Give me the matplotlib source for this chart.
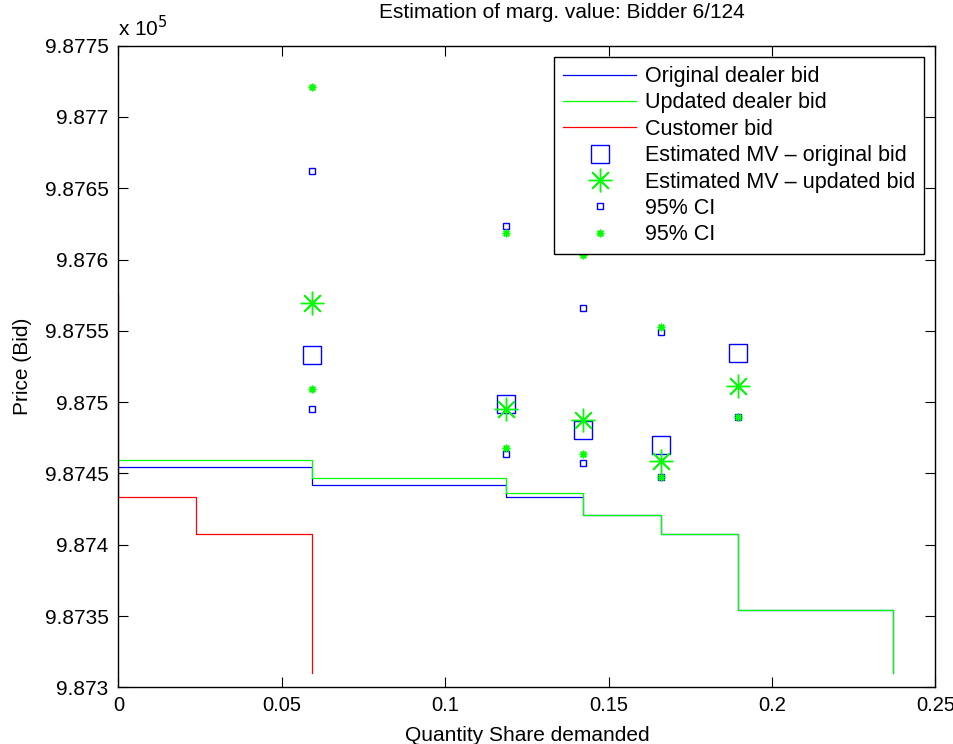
import numpy as np
import matplotlib
matplotlib.use('Agg')
import matplotlib.pyplot as plt

plt.rcParams['font.family'] = ['Liberation Sans', 'DejaVu Sans']
plt.rcParams['font.size'] = 15

# step points of the bid curves (quantity share, price)
q_dealer = [0, 0.0592, 0.1185, 0.1421, 0.1660, 0.1897, 0.2369]
p_original = [987454.7, 987441.9, 987433.6, 987420.8, 987407.4, 987354.1, 987309.8]
p_updated = [987459.4, 987446.7, 987436.4, 987420.8, 987407.4, 987354.1, 987309.8]

q_customer = [0, 0, 0.0237, 0.0592]
p_customer = [987575.3, 987433.4, 987407.4, 987309.8]

# estimated marginal values and confidence bounds
q_mv = [0.0592, 0.1185, 0.1421, 0.1660, 0.1897]
mv_original = [987533.1, 987498.5, 987480.5, 987469.7, 987534.1]
mv_updated = [987569.5, 987495.4, 987487.5, 987458.5, 987511.6]

q_ci = [0.0592, 0.1185, 0.1421, 0.1660, 0.1897]
ci_orig_hi = [987662.4, 987623.7, 987565.9, 987549.1, np.nan]
ci_orig_lo = [987495.2, 987463.6, 987457.3, 987447.5, 987489.8]
ci_upd_hi = [987721.3, 987618.3, 987603.1, 987553.0, np.nan]
ci_upd_lo = [987509.3, 987468.0, 987463.6, 987447.5, 987489.8]

yticks = np.arange(987300, 987751, 50)
xticks = [0, 0.05, 0.1, 0.15, 0.2, 0.25]

fig = plt.figure(figsize=(9.54, 7.44), dpi=100)
ax = fig.add_axes([0.1241, 0.0762, 0.8565, 0.8625])

ax.plot(q_dealer, p_original, color='b', lw=0.9, drawstyle='steps-post', label='Original dealer bid')
ax.plot(q_dealer, p_updated, color='lime', lw=0.9, drawstyle='steps-post', label='Updated dealer bid')
ax.plot(q_customer, p_customer, color='r', lw=0.9, drawstyle='steps-post', label='Customer bid')

ax.plot(q_mv, mv_original, ls='none', marker='s', ms=13, mfc='none', mec='b', mew=1.0,
        label='Estimated MV – original bid')
ax.plot(q_mv, mv_updated, ls='none', marker=(8, 2, 0), ms=17, mec='lime', mew=1.0,
        label='Estimated MV – updated bid')
ax.plot(q_ci, ci_orig_hi, ls='none', marker='s', ms=4.5, mfc='none', mec='b', mew=1.0,
        label='95% CI')
ax.plot(q_ci, ci_upd_hi, ls='none', marker=(8, 2, 0), ms=5.5, mec='lime', mew=1.0,
        label='95% CI')
ax.plot(q_ci, ci_orig_lo, ls='none', marker='s', ms=4.5, mfc='none', mec='b', mew=1.0)
ax.plot(q_ci, ci_upd_lo, ls='none', marker=(8, 2, 0), ms=5.5, mec='lime', mew=1.0)

ax.set_xlim(0, 0.25)
ax.set_ylim(987300, 987750)
ax.set_xticks(xticks)
ax.set_xticklabels(['0', '0.05', '0.1', '0.15', '0.2', '0.25'], fontsize=14.5)
ax.set_yticks(yticks)
ax.set_yticklabels(['%g' % (v / 1e5) for v in yticks])
ax.tick_params(direction='in', length=7, top=True, right=True, width=0.8)
ax.tick_params(axis='y', pad=7)
ax.tick_params(axis='x', pad=6)
for s in ax.spines.values():
    s.set_linewidth(1.0)

ax.text(0, 1.008, r'x 10$^5$', transform=ax.transAxes, ha='left', va='bottom')
fig.text(562 / 954, 1 - 12 / 744, 'Estimation of marg. value: Bidder 6/124',
         ha='center', va='center', fontsize=15)
ax.set_xlabel('Quantity Share demanded', labelpad=8)
ax.set_ylabel('Price (Bid)', labelpad=9)

leg = ax.legend(loc='upper right', fancybox=False, edgecolor='k', framealpha=1,
                borderaxespad=0.55, handlelength=3.4, handletextpad=0.4,
                labelspacing=0.25, borderpad=0.4, prop={'size': 15.5})
leg.get_frame().set_linewidth(1.0)

fig.savefig('out.png', dpi=100)
